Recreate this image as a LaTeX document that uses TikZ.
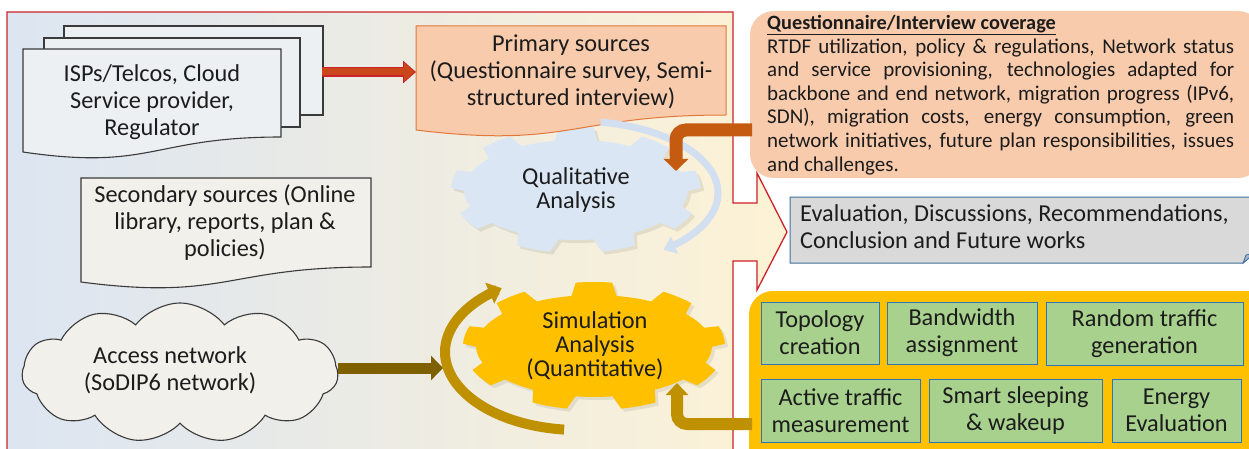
\documentclass[tikz,border=0pt]{standalone}
\usepackage{fontspec}
\setmainfont{Carlito}
\usetikzlibrary{arrows.meta,shapes.symbols}
\definecolor{redline}{HTML}{CC2229}
\definecolor{bgL}{HTML}{DCE5F2}
\definecolor{bgR}{HTML}{FDF2D5}
\definecolor{docline}{HTML}{3A3A3A}
\definecolor{docfill}{HTML}{EDF0F2}
\definecolor{docfillB}{HTML}{F2F0EA}
\definecolor{peach}{HTML}{F8CBAD}
\definecolor{peachline}{HTML}{E2793A}
\definecolor{qualblue}{HTML}{DAE6F3}
\definecolor{arcblue}{HTML}{D2DFF0}
\definecolor{orangeA}{HTML}{C55A11}
\definecolor{redA}{HTML}{C9471B}
\definecolor{goldA}{HTML}{BF9000}
\definecolor{brownA}{HTML}{7F6000}
\definecolor{yellowA}{HTML}{FFC000}
\definecolor{greenA}{HTML}{A9D18E}
\definecolor{greenline}{HTML}{2E75B6}
\definecolor{evalgrey}{HTML}{D9D9D9}
\definecolor{evalline}{HTML}{41719C}
\definecolor{foldgrey}{HTML}{A5B4C8}
\definecolor{txtcol}{HTML}{1C1C1C}
\newcommand\drawgear[6]{%
  \path[#6] ({#1+#3*cos(79)},{#2-#4*sin(79)})
  \foreach \a in {90,130,...,410}{
    -- ({#1+#3*cos(\a-11)},{#2-#4*sin(\a-11)})
    -- ({#1+(#3+#5)*cos(\a-8)},{#2-(#4+#5)*sin(\a-8)})
    -- ({#1+(#3+#5)*cos(\a-4)},{#2-(#4+#5)*sin(\a-4)})
    -- ({#1+(#3+#5)*cos(\a)},{#2-(#4+#5)*sin(\a)})
    -- ({#1+(#3+#5)*cos(\a+4)},{#2-(#4+#5)*sin(\a+4)})
    -- ({#1+(#3+#5)*cos(\a+8)},{#2-(#4+#5)*sin(\a+8)})
    -- ({#1+#3*cos(\a+11)},{#2-#4*sin(\a+11)})
    -- ({#1+#3*cos(\a+16)},{#2-#4*sin(\a+16)})
    -- ({#1+#3*cos(\a+20)},{#2-#4*sin(\a+20)})
    -- ({#1+#3*cos(\a+24)},{#2-#4*sin(\a+24)})
  } -- cycle;}
\begin{document}
\begin{tikzpicture}[x=1pt,y=-1pt,
  txt/.style={text=txtcol, align=center, inner sep=0pt, font=\fontsize{24.3}{27}\selectfont},
  gtxt/.style={text=txtcol, align=center, inner sep=0pt, font=\fontsize{24.3}{24.2}\selectfont},
  doc/.style={fill=docfill, draw=docline, line width=1.1pt},
  gbox/.style={draw=greenline, fill=greenA, line width=0.9pt, text=txtcol, align=center, inner sep=0pt, font=\fontsize{24.3}{27}\selectfont},
]
\useasboundingbox (0,0) rectangle (1249,449);
\clip (0,0) rectangle (1249,449);
\fill[white] (0,0) rectangle (1249,449);

% big block arrow background
\shade[left color=bgL, right color=bgR] (7,12) -- (733,12) -- (733,203) -- (757,203) -- (757,173) -- (787,232) -- (757,290) -- (757,261) -- (733,261) -- (733,470) -- (7,470) -- cycle;
\draw[redline, line width=1.3pt] (7,12) -- (733,12) -- (733,203) -- (757,203) -- (757,173) -- (787,232) -- (757,290) -- (757,261) -- (733,261) -- (733,470) -- (7,470) -- cycle;

% ISP multi-document
\filldraw[doc] (64,26) rectangle (323,115);
\filldraw[doc] (44,38) rectangle (300,127);
\filldraw[doc] (23,49) -- (281,49) -- (281,137) .. controls (152,137) and (152,171) .. (23,152) -- cycle;
\node[txt] (isp) at (152,102) {ISPs/Telcos, Cloud\\Service provider,\\Regulator};
\coordinate (ispE) at (322,72);

% secondary sources
\filldraw[doc, fill=docfillB] (81,178) -- (371,178) -- (371,267) .. controls (226,267) and (226,301) .. (81,282) -- cycle;
\node[txt] (sec) at (225,223) {Secondary sources (Online\\library, reports, plan \&\\policies)};

% cloud
\node[cloud, cloud puffs=11, cloud puff arc=105, aspect=2.25, draw=docline, fill=docfillB, line width=1.1pt, minimum width=316pt, minimum height=140pt, inner sep=0pt] (cloud) at (180,373) {};
\node[txt] (acc) at (170,370) {Access network\\(SoDIP6 network)};
\coordinate (cloudE) at (338,368);

% qualitative gear
\drawgear{579}{193}{112}{50}{13}{fill=black, opacity=0.08}
\drawgear{576}{190}{112}{50}{13}{fill=qualblue}
\node[gtxt] (qual) at (576,190) {Qualitative\\Analysis};

% primary sources doc
\filldraw[fill=peach, draw=peachline, line width=1pt] (416,26) -- (726,26) -- (726,115) .. controls (571,115) and (571,149) .. (416,130) -- cycle;
\node[txt] (prim) at (571,72) {Primary sources\\(Questionnaire survey, Semi-\\structured interview)};
\coordinate (primW) at (416,72);

% light blue loop arrow
\draw[arcblue, line width=7pt, -{Triangle[width=18pt,length=12pt]}] plot[domain=80:-52, samples=60] ({576+142*cos(\x)},{193-72*sin(\x)});

% simulation gear
\drawgear{597}{349}{118}{51}{13}{fill=black, opacity=0.08}
\drawgear{594}{346}{118}{51}{13}{fill=yellowA}
\node[gtxt] (sim) at (595,346) {Simulation\\Analysis\\(Quantitative)};

% gold loop arrow
\draw[goldA, line width=10pt, -{Triangle[width=22pt,length=13pt]}] plot[domain=264:125, samples=60] ({578+133*cos(\x)},{352-78*sin(\x)});

% questionnaire box
\fill[peach] (750,11) [rounded corners=24pt] -- (1262,11) -- (1262,178) -- (750,178) -- cycle;
\node[text=txtcol, text width=467pt, align=justify, inner sep=0pt, font=\fontsize{21}{23.6}\selectfont, anchor=north west] (cov) at (767,15)
{{\fontsize{20.3}{23.6}\selectfont\underline{\textbf{Questionnaire/Interview coverage}}}\\
RTDF utilization, policy \& regulations, Network status\linebreak
and service provisioning, technologies adapted for\linebreak
backbone and end network, migration progress (IPv6,\linebreak
SDN), migration costs, energy consumption, green\linebreak
network initiatives, future plan responsibilities, issues\linebreak
and challenges.};
\coordinate (covW) at (752,130);
\coordinate (qualNE) at (676,171);
\draw[orangeA, line width=13pt, rounded corners=10pt, -{Triangle[width=24pt,length=12pt]}] (covW) -| (qualNE);

% evaluation box
\filldraw[fill=evalgrey, draw=evalline, line width=1pt] (790,197) -- (1255,197) -- (1255,253) -- (1243,263) -- (790,263) -- cycle;
\filldraw[fill=foldgrey, draw=evalline, line width=0.8pt] (1243,263) -- (1246,255) -- (1255,253) -- cycle;
\node[txt, align=left, anchor=west] (eval) at (800,227) {Evaluation, Discussions, Recommendations,\\Conclusion and Future works};

% simulation tasks container
\fill[yellowA, rounded corners=24pt] (749,291) rectangle (1275,449+24);
\node[gbox, minimum width=118pt, minimum height=62pt] (g1) at (820,333) {Topology\\creation};
\node[gbox, minimum width=150pt, minimum height=62pt] (g2) at (962,333) {Bandwidth\\assignment};
\node[gbox, minimum width=197pt, minimum height=63pt] (g3) at (1144.5,333.5) {Random traffic\\generation};
\node[gbox, minimum width=159pt, minimum height=63pt] (g4) at (840.5,410.5) {Active traffic\\measurement};
\node[gbox, minimum width=173pt, minimum height=63pt] (g5) at (1015.5,410.5) {Smart sleeping\\\& wakeup};
\node[gbox, minimum width=129pt, minimum height=63pt] (g6) at (1176.5,410.5) {Energy\\Evaluation};
\coordinate (contW) at (752,424);
\coordinate (simSE) at (677,383);
\draw[goldA, line width=12pt, rounded corners=10pt, -{Triangle[width=22pt,length=12pt]}] (contW) -| (simSE);

% straight arrows
\draw[redline, line width=10pt, -{Triangle[width=22pt,length=13pt]}] (ispE) -- (primW);
\draw[redA, line width=7pt, shorten >=1.5pt, -{Triangle[width=18pt,length=10.5pt]}] (ispE) -- (primW);
\draw[brownA, line width=11pt, -{Triangle[width=24pt,length=12pt]}] (cloudE) -- (443,368);
\end{tikzpicture}
\end{document}
